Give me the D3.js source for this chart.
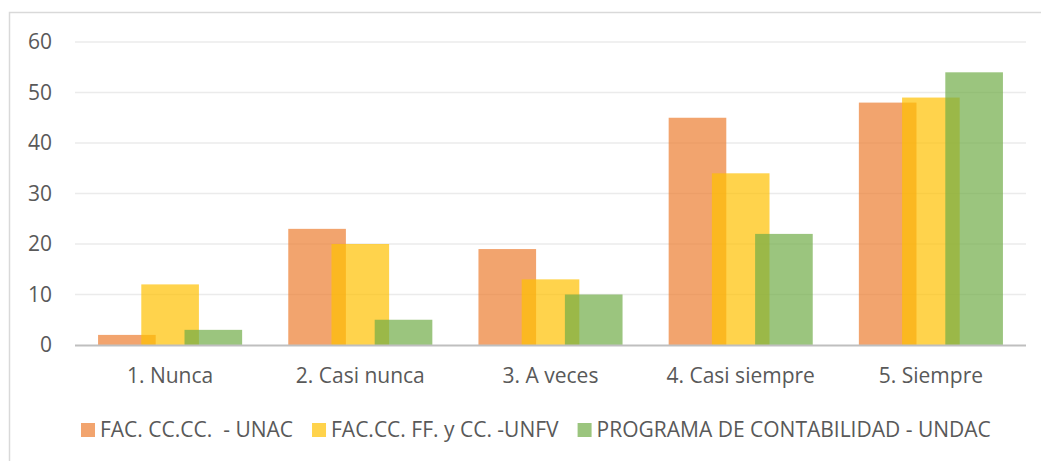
<!DOCTYPE html>
<html>
<head>
<meta charset="utf-8">
<script src="https://cdn.jsdelivr.net/npm/d3@7"></script>
<style>
body { margin:0; padding:0; background:#fff; }
text { font-family: "Open Sans", sans-serif; fill:#595959; }
</style>
</head>
<body>
<div id="chart"></div>
<script>
// data
var categories = ["1. Nunca", "2. Casi nunca", "3. A veces", "4. Casi siempre", "5. Siempre"];
var seriesNames = ["FAC. CC.CC.  - UNAC", "FAC.CC. FF. y CC. -UNFV", "PROGRAMA DE CONTABILIDAD - UNDAC"];
var unacValues = [2, 23, 19, 45, 48];
var unfvValues = [12, 20, 13, 34, 49];
var undacValues = [3, 5, 10, 22, 54];
var yTicks = [0, 10, 20, 30, 40, 50, 60];
var colors = ["#ED7D31", "#FFC000", "#70AD47"];

var W = 1041, H = 461;
var svg = d3.select("#chart").append("svg")
  .attr("width", W).attr("height", H);

// outer chart border
svg.append("rect")
  .attr("x", 9.5).attr("y", 12.5)
  .attr("width", 1100).attr("height", 500)
  .attr("fill", "none").attr("stroke", "#D9D9D9").attr("stroke-width", 1.5);

var plotL = 75, plotR = 1026, plotT = 42, plotB = 345;

var x = d3.scaleBand().domain(categories).range([plotL, plotR]).padding(0);
var y = d3.scaleLinear().domain([0, 60]).range([plotB, plotT]);

// gridlines
svg.selectAll("line.grid")
  .data(yTicks.slice(1))
  .enter()
  .append("line")
  .attr("class", "grid")
  .attr("x1", plotL).attr("x2", plotR)
  .attr("y1", function(d){ return y(d); })
  .attr("y2", function(d){ return y(d); })
  .attr("stroke", "#EBEBEB").attr("stroke-width", 1.5);

// y labels
svg.selectAll("text.ytick")
  .data(yTicks)
  .enter()
  .append("text")
  .attr("class", "ytick")
  .attr("x", 52)
  .attr("y", function(d){ return y(d); })
  .attr("dy", "0.35em")
  .attr("text-anchor", "end")
  .attr("font-size", "21px")
  .text(function(d){ return d; });

// bars: width 0.303 of band, 25% overlap
var barW = x.bandwidth() * 0.303;
var step = barW * 0.75;
var groupW = 2 * step + barW;
var allSeries = [unacValues, unfvValues, undacValues];

allSeries.forEach(function(vals, s){
  svg.selectAll("rect.s" + s)
    .data(vals)
    .enter()
    .append("rect")
    .attr("class", "s" + s)
    .attr("x", function(d, i){ return x(categories[i]) + (x.bandwidth() - groupW) / 2 + s * step; })
    .attr("y", function(d){ return y(d); })
    .attr("width", barW)
    .attr("height", function(d){ return y(0) - y(d); })
    .attr("fill", colors[s])
    .attr("fill-opacity", 0.7);
});

// x axis line
svg.append("line")
  .attr("x1", plotL).attr("x2", plotR)
  .attr("y1", plotB + 0.5).attr("y2", plotB + 0.5)
  .attr("stroke", "#BFBFBF").attr("stroke-width", 2);

// x labels
svg.selectAll("text.xlab")
  .data(categories)
  .enter()
  .append("text")
  .attr("class", "xlab")
  .attr("x", function(d){ return x(d) + x.bandwidth() / 2; })
  .attr("y", 383)
  .attr("text-anchor", "middle")
  .attr("font-size", "21px")
  .text(function(d){ return d; });

// legend
var lx = 81;
seriesNames.forEach(function(name, s){
  svg.append("rect")
    .attr("x", lx).attr("y", 423)
    .attr("width", 14).attr("height", 14)
    .attr("fill", colors[s]).attr("fill-opacity", 0.7);
  var t = svg.append("text")
    .attr("x", lx + 19).attr("y", 437)
    .attr("font-size", "21px")
    .style("white-space", "pre")
    .text(name);
  lx = lx + 19 + t.node().getComputedTextLength() + 19;
});
</script>
</body>
</html>
